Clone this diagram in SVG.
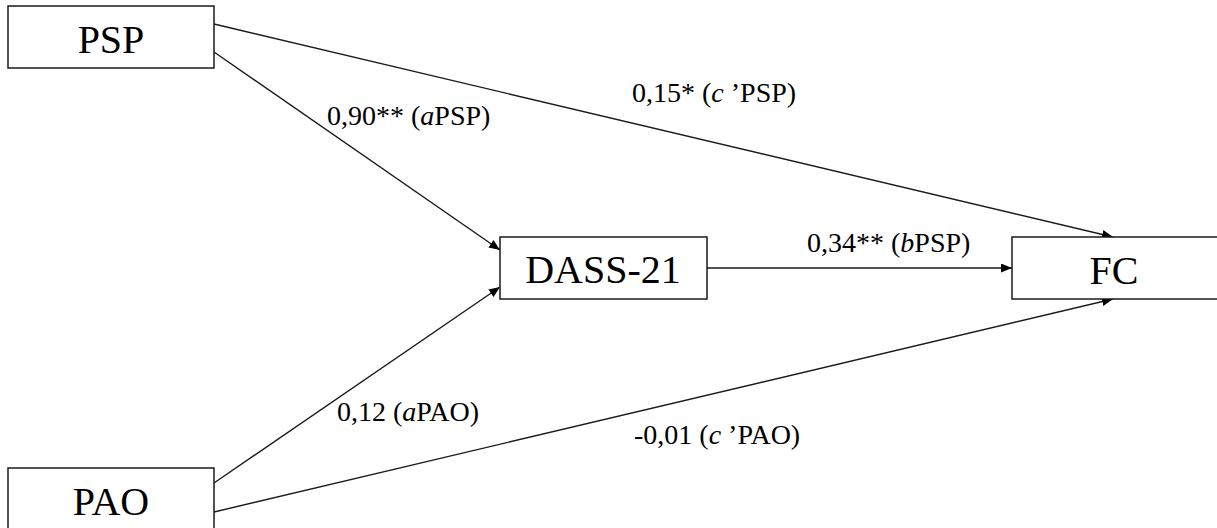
<svg xmlns="http://www.w3.org/2000/svg" width="1217" height="528" viewBox="0 0 1217 528">
  <style>
    .box { fill: #ffffff; stroke: #1a1a1a; stroke-width: 1.5; }
    .node-label { font-family: "Liberation Serif", "Times New Roman", serif; font-size: 40px; fill: #000; text-anchor: middle; }
    .edge { stroke: #1a1a1a; stroke-width: 1.4; fill: none; marker-end: url(#arrow); }
    .edge-label { font-family: "Liberation Serif", "Times New Roman", serif; font-size: 28px; fill: #000; }
    .it { font-style: italic; }
  </style>
  <defs>
    <marker id="arrow" markerUnits="userSpaceOnUse" markerWidth="12" markerHeight="10" refX="11" refY="4.5" orient="auto">
      <path d="M0,0 L11,4.5 L0,9 z" fill="#000"/>
    </marker>
  </defs>
  <rect width="1217" height="528" fill="#ffffff"/>

  <g id="connectors">
    <line class="edge" x1="214" y1="24" x2="1113" y2="237"/>
    <line class="edge" x1="214" y1="52" x2="500" y2="250"/>
    <line class="edge" x1="214" y1="483" x2="500" y2="287"/>
    <line class="edge" x1="214" y1="512" x2="1113" y2="299"/>
    <line class="edge" x1="707" y1="268" x2="1012" y2="268"/>
    <text class="edge-label" x="327" y="125">0,90** (<tspan class="it">a</tspan>PSP)</text>
    <text class="edge-label" x="632" y="102">0,15* (<tspan class="it">c</tspan> ’PSP)</text>
    <text class="edge-label" x="807" y="252">0,34** (<tspan class="it">b</tspan>PSP)</text>
    <text class="edge-label" x="337" y="421">0,12 (<tspan class="it">a</tspan>PAO)</text>
    <text class="edge-label" x="634" y="444">-0,01 (<tspan class="it">c</tspan> ’PAO)</text>
  </g>

  <g id="node-psp">
    <rect class="box" x="8" y="6" width="206" height="62"/>
    <text class="node-label" x="111" y="53">PSP</text>
  </g>
  <g id="node-pao">
    <rect class="box" x="8" y="468" width="206" height="70"/>
    <text class="node-label" x="111" y="515">PAO</text>
  </g>
  <g id="node-dass">
    <rect class="box" x="500" y="237" width="207" height="62"/>
    <text class="node-label" x="603" y="283">DASS-21</text>
  </g>
  <g id="node-fc">
    <rect class="box" x="1012" y="237" width="220" height="62"/>
    <text class="node-label" x="1114" y="284">FC</text>
  </g>
</svg>
